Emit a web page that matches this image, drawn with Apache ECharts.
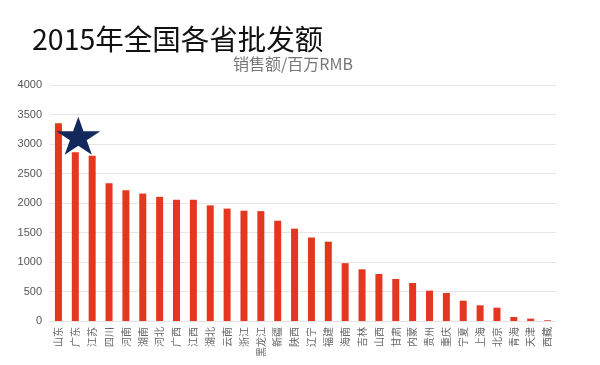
<!DOCTYPE html>
<html><head><meta charset="utf-8">
<script src="https://cdn.jsdelivr.net/npm/echarts@6/dist/echarts.min.js"></script>
<style>html,body{margin:0;padding:0;background:#fff}#c{width:600px;height:365px}</style>
</head><body><div id="c"></div>
<script>
const categories = ['山东','广东','江苏','四川','河南','湖南','河北','广西','江西','湖北','云南','浙江','黑龙江','新疆','陕西','辽宁','福建','海南','吉林','山西','甘肃','内蒙','贵州','重庆','宁夏','上海','北京','青海','天津','西藏'];
const sales = [3350,2860,2800,2335,2215,2160,2105,2055,2055,1960,1905,1870,1862,1700,1565,1415,1345,980,876,797,712,644,514,475,344,266,226,68,40,12];
const yTicks = [0,500,1000,1500,2000,2500,3000,3500,4000];
const starPoint = [['广东', 3140]];

const font = '"Noto Sans CJK SC", "Noto Sans", sans-serif';
const starPath = 'path://M50,0 L61.23,34.55 L97.55,34.55 L68.17,55.9 L79.39,90.45 L50,69.1 L20.61,90.45 L31.83,55.9 L2.45,34.55 L38.77,34.55 Z';

const chart = echarts.init(document.getElementById('c'));
chart.setOption({
  animation: false,
  backgroundColor: '#fff',
  textStyle: { fontFamily: font },
  title: [
    { text: '2015年全国各省批发额', left: 27, top: 20,
      textStyle: { fontSize: 28.5, fontWeight: 'normal', color: '#111', fontFamily: font } },
    { text: '销售额/百万RMB', left: 228, top: 51,
      textStyle: { fontSize: 16, fontWeight: 'normal', color: '#777', fontFamily: font } }
  ],
  grid: { left: 50, right: 44, top: 85, bottom: 44 },
  xAxis: {
    type: 'category', data: categories,
    axisLine: { show: true, lineStyle: { color: '#e4e4e4' } },
    axisTick: { show: false },
    axisLabel: { rotate: 90, fontSize: 10, color: '#666', margin: 6, interval: 0, fontFamily: font }
  },
  yAxis: {
    type: 'value', min: yTicks[0], max: yTicks[yTicks.length-1], interval: 500,
    axisLine: { show: false }, axisTick: { show: false },
    axisLabel: { fontSize: 11, color: '#555', margin: 8, formatter: v => String(v),
      fontFamily: '"Liberation Sans", Arial, sans-serif' },
    splitLine: { lineStyle: { color: '#e6e6e6' } }
  },
  series: [
    { type: 'bar', data: sales, barWidth: 7, itemStyle: { color: '#e5361f' } },
    { type: 'scatter', data: starPoint, symbol: starPath, symbolSize: [44, 38], symbolOffset: [3, 0],
      itemStyle: { color: '#13285c', opacity: 1 }, z: 5 }
  ]
});
</script></body></html>
